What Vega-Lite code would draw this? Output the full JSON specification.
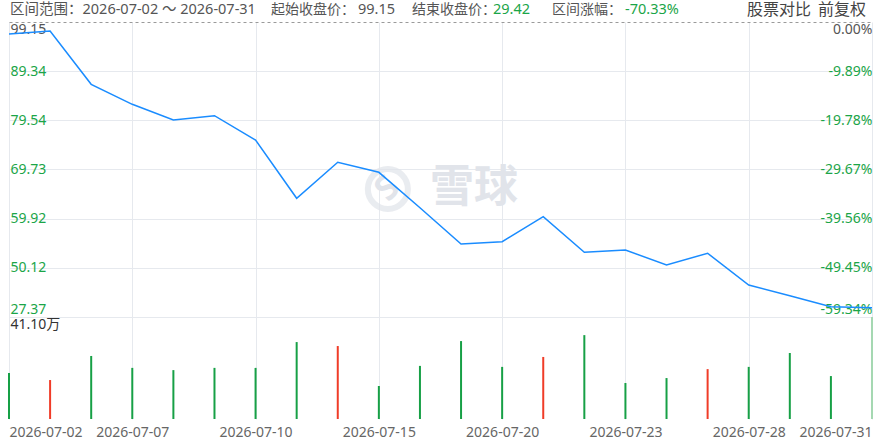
{
  "$schema": "https://vega.github.io/schema/vega-lite/v6.json",
  "width": 863,
  "height": 397,
  "autosize": {"type": "none"},
  "padding": {"left": 9, "top": 22, "right": 7, "bottom": 27},
  "background": "white",
  "config": {
    "view": {"stroke": null},
    "font": "'Noto Sans', 'Noto Sans CJK SC', sans-serif",
    "axis": {"labelFont": "'Noto Sans', 'Noto Sans CJK SC', sans-serif"},
    "text": {"font": "'Noto Sans', 'Noto Sans CJK SC', sans-serif"}
  },
  "datasets": {
    "daily": [
      {"date": "2026-07-02", "close": 96.76, "vol": 18.5, "dir": "down"},
      {"date": "2026-07-03", "close": 97.36, "vol": 15.7, "dir": "up"},
      {"date": "2026-07-06", "close": 86.72, "vol": 25.4, "dir": "down"},
      {"date": "2026-07-07", "close": 82.73, "vol": 20.6, "dir": "down"},
      {"date": "2026-07-08", "close": 79.60, "vol": 19.7, "dir": "down"},
      {"date": "2026-07-09", "close": 80.46, "vol": 20.6, "dir": "down"},
      {"date": "2026-07-10", "close": 75.61, "vol": 20.6, "dir": "down"},
      {"date": "2026-07-13", "close": 63.99, "vol": 31.0, "dir": "down"},
      {"date": "2026-07-14", "close": 71.17, "vol": 29.4, "dir": "up"},
      {"date": "2026-07-15", "close": 69.17, "vol": 13.3, "dir": "down"},
      {"date": "2026-07-16", "close": 62.11, "vol": 21.4, "dir": "down"},
      {"date": "2026-07-17", "close": 54.87, "vol": 31.4, "dir": "down"},
      {"date": "2026-07-20", "close": 55.33, "vol": 21.0, "dir": "down"},
      {"date": "2026-07-21", "close": 60.32, "vol": 25.0, "dir": "up"},
      {"date": "2026-07-22", "close": 53.22, "vol": 33.8, "dir": "down"},
      {"date": "2026-07-23", "close": 53.67, "vol": 14.5, "dir": "down"},
      {"date": "2026-07-24", "close": 50.68, "vol": 16.5, "dir": "down"},
      {"date": "2026-07-27", "close": 53.02, "vol": 20.1, "dir": "up"},
      {"date": "2026-07-28", "close": 46.69, "vol": 21.0, "dir": "down"},
      {"date": "2026-07-29", "close": 44.56, "vol": 26.6, "dir": "down"},
      {"date": "2026-07-30", "close": 42.36, "vol": 17.3, "dir": "down"},
      {"date": "2026-07-31", "close": 42.16, "vol": 41.1, "dir": "last"}
    ],
    "one": [{}]
  },
  "data": {"name": "daily"},
  "encoding": {
    "x": {
      "field": "date", "type": "ordinal",
      "scale": {"type": "point", "padding": 0},
      "axis": {
        "values": ["2026-07-02", "2026-07-07", "2026-07-10", "2026-07-15", "2026-07-20", "2026-07-23", "2026-07-28", "2026-07-31"],
        "labelFlush": true, "labelOverlap": false, "labelAngle": 0,
        "ticks": false, "domain": false,
        "grid": true, "gridColor": "#e6e9ee",
        "labelColor": "#666", "labelFontSize": 14, "labelPadding": 6,
        "title": null
      }
    }
  },
  "resolve": {"scale": {"y": "independent"}},
  "layer": [
    {
      "data": {"name": "one"},
      "layer": [
        {
          "mark": {"type": "point", "shape": "circle", "size": 1600, "filled": false, "stroke": "#e1e4ea", "strokeWidth": 6, "xOffset": 9},
          "encoding": {"x": {"datum": "2026-07-15", "type": "ordinal"}}
        },
        {
          "mark": {"type": "text", "text": "S", "fontSize": 34, "fontWeight": "bold", "color": "#e1e4ea", "align": "center", "baseline": "middle", "angle": -45, "xOffset": 9, "font": "'Noto Sans', sans-serif"},
          "encoding": {"x": {"datum": "2026-07-15", "type": "ordinal"}}
        },
        {
          "mark": {"type": "text", "text": "雪球", "fontSize": 44, "fontWeight": "bold", "color": "#e1e4ea", "align": "center", "baseline": "middle", "dx": 13, "font": "'Noto Sans CJK SC', sans-serif"},
          "encoding": {"x": {"datum": "2026-07-17", "type": "ordinal"}}
        }
      ],
      "encoding": {
        "y": {"datum": 65.84, "type": "quantitative", "scale": {"domain": [19.965, 99.15], "nice": false, "zero": false}, "axis": null}
      }
    },
    {
      "mark": {"type": "line", "color": "#1a8cff", "strokeWidth": 1.5, "clip": false},
      "encoding": {
        "y": {
          "field": "close", "type": "quantitative",
          "scale": {"domain": [19.965, 99.15], "nice": false, "zero": false},
          "axis": {
            "orient": "left",
            "values": [99.15, 89.34, 79.54, 69.73, 59.92, 50.12, 40.31],
            "labelExpr": "datum.value < 41 ? '27.37' : format(datum.value, '.2f')",
            "labelAlign": "left", "labelPadding": -1, "ticks": false, "domain": false,
            "labelFontSize": 14, "labelOverlap": false, "title": null,
            "labelColor": {"condition": {"test": "datum.value > 99", "value": "#555"}, "value": "#1ba548"},
            "labelBaseline": {"condition": [{"test": "datum.value > 99", "value": "top"}, {"test": "datum.value < 41", "value": "bottom"}], "value": "middle"},
            "grid": true,
            "gridColor": {"condition": {"test": "datum.value > 99", "value": "#9a9a9a"}, "value": "#e6e9ee"},
            "gridDash": {"condition": {"test": "datum.value > 99", "value": [3, 3]}, "value": []}
          }
        }
      }
    },
    {
      "mark": {"type": "line", "strokeOpacity": 0},
      "encoding": {
        "y": {
          "field": "close", "type": "quantitative",
          "scale": {"domain": [19.965, 99.15], "nice": false, "zero": false},
          "axis": {
            "orient": "right",
            "values": [99.15, 89.34, 79.54, 69.73, 59.92, 50.12, 40.31],
            "labelExpr": "['0.00%','-9.89%','-19.78%','-29.67%','-39.56%','-49.45%','-59.34%'][indexof([99.15, 89.34, 79.54, 69.73, 59.92, 50.12, 40.31], datum.value)]",
            "labelAlign": "right", "labelPadding": 0, "ticks": false, "domain": false,
            "labelFontSize": 14, "labelOverlap": false, "title": null, "grid": false,
            "labelColor": {"condition": {"test": "datum.value > 99", "value": "#555"}, "value": "#1ba548"},
            "labelBaseline": {"condition": [{"test": "datum.value > 99", "value": "top"}, {"test": "datum.value < 41", "value": "bottom"}], "value": "middle"}
          }
        }
      }
    },
    {
      "mark": {"type": "rule", "strokeWidth": 2, "clip": false},
      "encoding": {
        "y": {
          "field": "vol", "type": "quantitative",
          "scale": {"domain": [0, 159.97], "nice": false},
          "axis": {
            "orient": "left", "values": [41.1], "labelExpr": "'41.10万'",
            "labelAlign": "left", "labelBaseline": "top", "labelPadding": -1,
            "ticks": false, "domain": false, "grid": false, "title": null,
            "labelColor": "#333", "labelFontSize": 14
          }
        },
        "y2": {"datum": 0},
        "color": {
          "field": "dir", "type": "nominal",
          "scale": {"domain": ["down", "up", "last"], "range": ["#17a046", "#f03c28", "#a5d8b2"]},
          "legend": null
        }
      }
    },
    {
      "data": {"name": "one"},
      "encoding": {
        "x": {"datum": "2026-07-02", "type": "ordinal"},
        "y": {"datum": 101.54, "type": "quantitative", "scale": {"domain": [19.965, 99.15], "nice": false, "zero": false}, "axis": null}
      },
      "layer": [
        {"mark": {"type": "text", "text": "区间范围：2026-07-02 ～ 2026-07-31", "align": "left", "baseline": "middle", "dx": 1, "fontSize": 14.5, "color": "#555"}},
        {"mark": {"type": "text", "text": "起始收盘价：", "align": "left", "baseline": "middle", "dx": 262, "fontSize": 14, "color": "#555"}},
        {"mark": {"type": "text", "text": "99.15", "align": "left", "baseline": "middle", "dx": 349, "fontSize": 14.5, "color": "#555"}},
        {"mark": {"type": "text", "text": "结束收盘价：", "align": "left", "baseline": "middle", "dx": 403, "fontSize": 14, "color": "#555"}},
        {"mark": {"type": "text", "text": "29.42", "align": "left", "baseline": "middle", "dx": 484, "fontSize": 14.5, "color": "#1ba548"}},
        {"mark": {"type": "text", "text": "区间涨幅：", "align": "left", "baseline": "middle", "dx": 543, "fontSize": 14, "color": "#555"}},
        {"mark": {"type": "text", "text": "-70.33%", "align": "left", "baseline": "middle", "dx": 616, "fontSize": 14.5, "color": "#1ba548"}},
        {"mark": {"type": "text", "text": "股票对比", "align": "left", "baseline": "middle", "dx": 738, "fontSize": 16, "color": "#444"}},
        {"mark": {"type": "text", "text": "前复权", "align": "left", "baseline": "middle", "dx": 809, "fontSize": 16, "color": "#444"}}
      ]
    }
  ]
}
